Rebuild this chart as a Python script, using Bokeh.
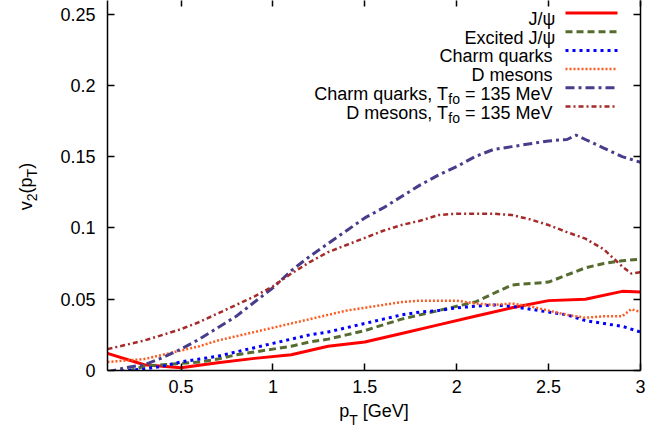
import math
from bokeh.plotting import figure
from bokeh.models import LinearAxis, FixedTicker, Range1d, Label
from bokeh.embed import file_html
from bokeh.resources import INLINE

# ---------------- data ----------------
pt_jpsi = [0.1, 0.3, 0.5, 0.7, 0.9, 1.1, 1.3, 1.5, 1.7, 1.9, 2.1, 2.3, 2.5, 2.7, 2.9, 3.0]
v2_jpsi = [0.012, 0.004, 0.002, 0.0055, 0.0085, 0.011, 0.017, 0.020, 0.026, 0.032,
           0.038, 0.044, 0.049, 0.050, 0.0555, 0.055]

pt_grid = [0.1, 0.2, 0.3, 0.4, 0.5, 0.6, 0.7, 0.8, 0.9, 1.0,
           1.1, 1.2, 1.3, 1.4, 1.5, 1.6, 1.7, 1.8, 1.9, 2.0,
           2.1, 2.2, 2.3, 2.4, 2.5, 2.6, 2.7, 2.8, 2.9, 3.0]
v2_excited = [-0.006, -0.001, 0.003, 0.004, 0.005, 0.006, 0.008, 0.011, 0.013, 0.015,
              0.017, 0.020, 0.022, 0.025, 0.028, 0.032, 0.036, 0.039, 0.042, 0.045,
              0.048, 0.054, 0.060, 0.061, 0.062, 0.067, 0.072, 0.075, 0.077, 0.078]
v2_charm = [-0.002, 0.000, 0.001, 0.003, 0.006, 0.008, 0.010, 0.013, 0.016, 0.019,
            0.022, 0.025, 0.027, 0.030, 0.033, 0.036, 0.039, 0.041, 0.042, 0.044,
            0.045, 0.046, 0.045, 0.043, 0.041, 0.039, 0.035, 0.033, 0.031, 0.027]

pt_dmes = [0.1, 0.2, 0.3, 0.4, 0.5, 0.6, 0.7, 0.8, 0.9, 1.0,
           1.1, 1.2, 1.3, 1.4, 1.5, 1.6, 1.7, 1.8, 1.9, 2.0,
           2.1, 2.2, 2.3, 2.4, 2.5, 2.6, 2.7, 2.8, 2.9, 2.95, 3.0]
v2_dmes = [0.006, 0.007, 0.008, 0.011, 0.014, 0.017, 0.021, 0.024, 0.027, 0.030,
           0.033, 0.036, 0.039, 0.042, 0.044, 0.046, 0.048, 0.049, 0.049, 0.049,
           0.047, 0.046, 0.047, 0.045, 0.042, 0.039, 0.037, 0.038, 0.038, 0.043, 0.041]

pt_charm_fo = [0.1, 0.2, 0.3, 0.4, 0.5, 0.6, 0.7, 0.8, 0.9, 1.0,
               1.1, 1.2, 1.3, 1.4, 1.5, 1.6, 1.7, 1.8, 1.9, 2.0,
               2.1, 2.2, 2.3, 2.4, 2.5, 2.6, 2.65, 2.7, 2.8, 2.9, 3.0]
v2_charm_fo = [-0.001, 0.002, 0.004, 0.009, 0.015, 0.022, 0.030, 0.038, 0.048, 0.058,
               0.070, 0.080, 0.089, 0.098, 0.107, 0.114, 0.122, 0.130, 0.137, 0.143,
               0.150, 0.155, 0.157, 0.159, 0.161, 0.162, 0.165, 0.162, 0.156, 0.150, 0.146]

pt_dmes_fo = [0.1, 0.2, 0.3, 0.4, 0.5, 0.6, 0.7, 0.8, 0.9, 1.0,
              1.1, 1.2, 1.3, 1.4, 1.5, 1.6, 1.7, 1.8, 1.9, 2.0,
              2.1, 2.2, 2.3, 2.4, 2.5, 2.6, 2.7, 2.8, 2.9, 2.95, 3.0]
v2_dmes_fo = [0.015, 0.018, 0.021, 0.025, 0.029, 0.034, 0.040, 0.046, 0.052, 0.059,
              0.068, 0.076, 0.083, 0.088, 0.093, 0.098, 0.102, 0.105, 0.109, 0.110,
              0.110, 0.110, 0.109, 0.106, 0.102, 0.097, 0.0925, 0.085, 0.073, 0.068, 0.069]

x_ticks = [0.5, 1, 1.5, 2, 2.5, 3]
x_tick_labels = ["0.5", "1", "1.5", "2", "2.5", "3"]
y_ticks = [0, 0.05, 0.1, 0.15, 0.2, 0.25]
y_tick_labels = ["0", "0.05", "0.1", "0.15", "0.2", "0.25"]

# legend texts: (main, subscript, rest)
legend_texts = [
    ("J/\u03c8", "", ""),
    ("Excited J/\u03c8", "", ""),
    ("Charm quarks", "", ""),
    ("D mesons", "", ""),
    ("Charm quarks, T", "fo", "\u00a0= 135 MeV"),
    ("D mesons, T", "fo", "\u00a0= 135 MeV"),
]
# axis titles as (text, is_subscript) pieces
x_title = [("p", False), ("T", True), ("[GeV]", False)]
y_title = [("v", False), ("2", True), ("(p", False), ("T", True), (")", False)]

series_x = [pt_jpsi, pt_grid, pt_grid, pt_dmes, pt_charm_fo, pt_dmes_fo]
series_y = [v2_jpsi, v2_excited, v2_charm, v2_dmes, v2_charm_fo, v2_dmes_fo]

# styles
colors = ["#ff0000", "#556b2f", "#0000ff", "#ff5a1e", "#483d8b", "#a52a2a"]
dashes = ["solid", "7 4", "3 4", "2 2", "9 4 3 4", "5 3 2 3"]
widths = [3, 3, 3, 2.5, 3, 2.5]

# ---------------- layout (page pixels; figure sits at 0,0) ----------------
FIG_W, FIG_H = 645, 435
MBL, MBR, MBT, MBB = 107, 5, 0, 65
FL = MBL
FR = FIG_W - MBR
FT = MBT
FB = FIG_H - MBB
X0, X1 = 0.1, 3.0
Y0 = 0.0
Y1 = (FB - FT) / 1426.0

FONT = "Liberation Sans"
FS = 18
SFS = 14
SUB = 5

def xd(px):
    return X0 + (px - FL) * (X1 - X0) / (FR - FL)

def yd(py):
    return Y0 + (FB - py) * (Y1 - Y0) / (FB - FT)

AFM = {' ': 278, '\u00a0': 278, '(': 333, ')': 333, ',': 278, '/': 278, '=': 584, '[': 278, ']': 278,
       'C': 722, 'D': 722, 'E': 667, 'G': 778, 'J': 500, 'M': 833, 'T': 611, 'V': 667,
       'a': 556, 'c': 500, 'd': 556, 'e': 556, 'f': 278, 'h': 556, 'i': 222, 'k': 500,
       'm': 833, 'n': 556, 'o': 556, 'p': 556, 'q': 556, 'r': 333, 's': 500, 't': 278,
       'u': 556, 'v': 500, 'x': 500}

def tw(s, size):
    return sum(AFM.get(c, 556) for c in s) * size / 1000.0

p = figure(width=FIG_W, height=FIG_H, x_range=Range1d(X0, X1), y_range=Range1d(Y0, Y1),
           output_backend="svg", toolbar_location=None,
           min_border_left=MBL, min_border_right=MBR, min_border_top=MBT, min_border_bottom=MBB)
p.outline_line_color = None
p.grid.visible = False
p.background_fill_color = "white"
p.border_fill_color = "white"

def style_axis(ax, ticks, labels, show_labels=True, line=True):
    ax.ticker = FixedTicker(ticks=ticks)
    ax.major_tick_in = 7
    ax.major_tick_out = 0
    ax.minor_tick_line_color = None
    ax.major_tick_line_color = "black"
    ax.major_tick_line_width = 1.5
    ax.axis_line_color = "black" if line else None
    ax.axis_line_width = 1.5
    if show_labels:
        ax.major_label_overrides = {t: l for t, l in zip(ticks, labels)}
        ax.major_label_text_font = FONT
        ax.major_label_text_font_size = f"{FS}px"
        ax.major_label_text_color = "black"
    else:
        ax.major_label_overrides = {t: "" for t in ticks}
        ax.major_label_text_font_size = "1px"
        ax.major_label_standoff = 0

xa = p.xaxis[0]
style_axis(xa, x_ticks, x_tick_labels)
xa.major_label_standoff = 9
ya = p.yaxis[0]
style_axis(ya, y_ticks, y_tick_labels)
ya.major_label_standoff = 12

ra = LinearAxis()
style_axis(ra, y_ticks, y_tick_labels, show_labels=False)
p.add_layout(ra, "right")
ta = LinearAxis()
style_axis(ta, x_ticks, x_tick_labels, show_labels=False, line=False)
ta.major_tick_in = 6
p.add_layout(ta, "above")

# ---------------- curves ----------------
for xs, ys, c, d, w in zip(series_x, series_y, colors, dashes, widths):
    p.line(xs, ys, line_color=c, line_dash=d, line_width=w)

# ---------------- legend (labels inside the frame) ----------------
def rich_right(pieces, right_px, base):
    ws = [tw(t, SFS if s else FS) for t, s in pieces]
    pos = right_px - sum(ws)
    for (t, s), w in zip(pieces, ws):
        size = SFS if s else FS
        p.add_layout(Label(x=xd(pos), y=yd(base + (SUB if s else 0)), text=t,
                           text_align="left", text_baseline="alphabetic",
                           text_font=FONT, text_font_size=f"{size}px", text_color="black"))
        pos += w

TEXT_RIGHT = 552
SAMPLE_L, SAMPLE_R = 565, 617
for i, (main, sub, rest) in enumerate(legend_texts):
    base = 18.5 + 18.7 * i
    pieces = [(main, False)]
    if sub:
        pieces += [(sub, True), (rest, False)]
    rich_right(pieces, TEXT_RIGHT, base)
    yy = yd(base - 6)
    p.line([xd(SAMPLE_L), xd(SAMPLE_R)], [yy, yy], line_color=colors[i],
           line_dash=dashes[i], line_width=widths[i])

# ---------------- axis titles, built from label-only axes ----------------
def piece_centers(pieces, center_px, gap_before_last=0.0):
    ws = [tw(t, SFS if s else FS) for t, s in pieces]
    ws[-1] += gap_before_last
    start = center_px - sum(ws) / 2
    out = []
    for (t, s), w in zip(pieces, ws):
        out.append(start + w / 2)
        start += w
    return out

def label_axis(ticks, labels, size, standoff, vertical=False):
    ax = LinearAxis(ticker=FixedTicker(ticks=ticks),
                    major_label_overrides={t: l for t, l in zip(ticks, labels)},
                    major_label_text_font=FONT, major_label_text_font_size=f"{size}px",
                    major_label_text_color="black", major_label_standoff=standoff,
                    axis_line_color=None, major_tick_line_color=None,
                    minor_tick_line_color=None, major_tick_in=0, major_tick_out=0)
    if vertical:
        ax.major_label_orientation = "vertical"
    return ax

# x title: "p" + subscript "T" + " [GeV]"
GAP = tw(" ", FS)
xc = piece_centers(x_title, (FL + FR) / 2, GAP)
xc[-1] += GAP / 2
main_x = [(xd(c), t) for c, (t, s) in zip(xc, x_title) if not s]
sub_x = [(xd(c), t) for c, (t, s) in zip(xc, x_title) if s]
p.add_layout(label_axis([a for a, _ in main_x], [b for _, b in main_x], FS, 5), "below")
p.add_layout(label_axis([a for a, _ in sub_x], [b for _, b in sub_x], SFS, -12), "below")

# y title: "v" + sub "2" + "(p" + sub "T" + ")" reading upwards
ws_y = [tw(t, SFS if s else FS) for t, s in y_title]
start = 186 + sum(ws_y) / 2
yc = []
for w in ws_y:
    yc.append(start - w / 2)
    start -= w
main_y = [(yd(c), t) for c, (t, s) in zip(yc, y_title) if not s]
sub_y = [(yd(c), t) for c, (t, s) in zip(yc, y_title) if s]
p.add_layout(label_axis([a for a, _ in sub_y], [b for _, b in sub_y], SFS, 17, vertical=True), "left")
p.add_layout(label_axis([a for a, _ in main_y], [b for _, b in main_y], FS, -15, vertical=True), "left")

open("out.html", "w").write(file_html(p, INLINE))
